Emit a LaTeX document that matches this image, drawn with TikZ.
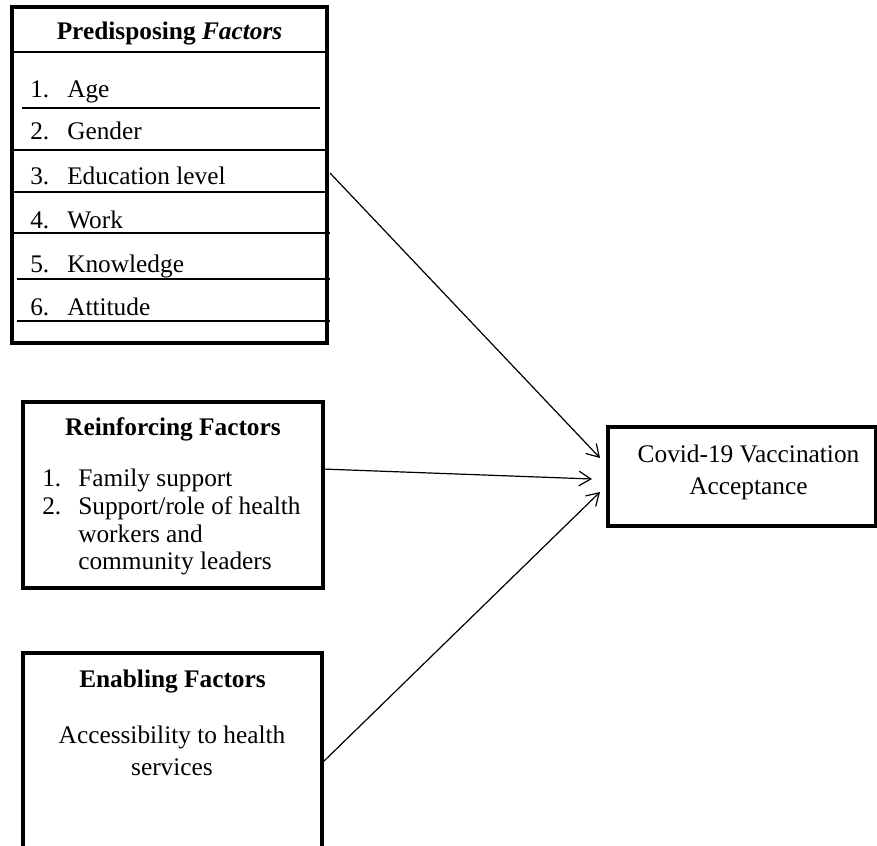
\documentclass[tikz,border=0pt]{standalone}
\usepackage{fontspec}
\setmainfont{Liberation Serif}
\usetikzlibrary{arrows.meta}
\begin{document}
\begin{tikzpicture}[x=0.75pt,y=-0.75pt,
  box/.style={draw, line width=2.4pt, inner sep=0pt},
  sep/.style={line width=1.1pt},
  txt/.style={inner sep=0pt, font=\fontsize{19}{22}\selectfont},
  ttl/.style={inner sep=0pt, font=\fontsize{19}{22}\selectfont\bfseries},
  conn/.style={line width=0.9pt, -{Straight Barb[length=9pt,width=11pt,line width=0.9pt]}}
]
\clip (0,0) rectangle (877,845);
\fill[white] (0,0) rectangle (877,845);

% boxes
\node[box, minimum width=236.25pt, minimum height=252pt] (pre) at (169.5,175) {};
\node[box, minimum width=225pt, minimum height=139.5pt] (rei) at (173,495) {};
\node[box, minimum width=224.25pt, minimum height=160.5pt] (ena) at (172.5,760) {};
\node[box, minimum width=200.6pt, minimum height=74.25pt] (out) at (741.75,476.5) {};

% separators in predisposing box
\draw[sep] (13,52) -- (326,52);
\draw[sep] (22,108) -- (320,108);
\draw[sep] (13,150) -- (326,150);
\draw[sep] (13,192) -- (326,192);
\draw[sep] (13,233) -- (330,233);
\draw[sep] (17,279) -- (330,279);
\draw[sep] (17,321) -- (330,321);

% predisposing text
\node[ttl, anchor=base] (preT) at (169.5,40) {Predisposing \textit{Factors}};
\node[txt, anchor=base west] (pn1) at (30,98) {1.};
\node[txt, anchor=base west] (pi1) at (67,98) {Age};
\node[txt, anchor=base west] (pn2) at (30,140) {2.};
\node[txt, anchor=base west] (pi2) at (67,140) {Gender};
\node[txt, anchor=base west] (pn3) at (30,185) {3.};
\node[txt, anchor=base west] (pi3) at (67,185) {Education level};
\node[txt, anchor=base west] (pn4) at (30,228) {4.};
\node[txt, anchor=base west] (pi4) at (67,228) {Work};
\node[txt, anchor=base west] (pn5) at (30,272) {5.};
\node[txt, anchor=base west] (pi5) at (67,272) {Knowledge};
\node[txt, anchor=base west] (pn6) at (30,315) {6.};
\node[txt, anchor=base west] (pi6) at (67,315) {Attitude};

% reinforcing text
\node[ttl, anchor=base] (reiT) at (173,435) {Reinforcing Factors};
\node[txt, anchor=base west] (rn1) at (42,486) {1.};
\node[txt, anchor=base west] (ri1) at (78,486) {Family support};
\node[txt, anchor=base west] (rn2) at (42,514) {2.};
\node[txt, anchor=base west] (ri2) at (78,514) {Support/role of health};
\node[txt, anchor=base west] (ri3) at (78,542) {workers and};
\node[txt, anchor=base west] (ri4) at (78,569) {community leaders};

% enabling text
\node[ttl, anchor=base] (enaT) at (172.5,687) {Enabling Factors};
\node[txt, anchor=base] (ena1) at (172,743) {Accessibility to health};
\node[txt, anchor=base] (ena2) at (172,775) {services};

% outcome text
\node[txt, anchor=base] (out1) at (748.5,462) {Covid-19 Vaccination};
\node[txt, anchor=base] (out2) at (748.5,494) {Acceptance};

% connector ends
\coordinate (s1) at (330,173);
\coordinate (e1) at (600,458);
\coordinate (s2) at (322,469);
\coordinate (e2) at (592,479);
\coordinate (s3) at (322,763);
\coordinate (e3) at (600,492);
\draw[conn] (s1) -- (e1);
\draw[conn] (s2) -- (e2);
\draw[conn] (s3) -- (e3);
\end{tikzpicture}
\end{document}
